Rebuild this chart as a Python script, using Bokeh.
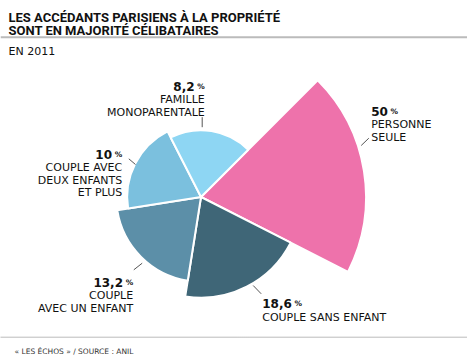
import math
from bokeh.plotting import figure
from bokeh.models import Range1d
from bokeh.core.properties import value
from bokeh.embed import file_html
from bokeh.resources import INLINE

# ---- data ----
categories = ["PERSONNE SEULE", "COUPLE SANS ENFANT", "COUPLE AVEC UN ENFANT",
              "COUPLE AVEC DEUX ENFANTS ET PLUS", "FAMILLE MONOPARENTALE"]
values = [50, 18.6, 13.2, 10, 8.2]
pct_labels = ["50", "18,6", "13,2", "10", "8,2"]
name_lines = [["PERSONNE", "SEULE"], ["COUPLE SANS ENFANT"], ["COUPLE", "AVEC UN ENFANT"],
              ["COUPLE AVEC", "DEUX ENFANTS", "ET PLUS"], ["FAMILLE", "MONOPARENTALE"]]
colors = ["#EE72AB", "#3F6677", "#5C8FA8", "#7BC0DE", "#8ED6F3"]
title_lines = ["LES ACCÉDANTS PARISIENS À LA PROPRIÉTÉ", "SONT EN MAJORITÉ CÉLIBATAIRES"]
subtitle = "EN 2011"
source = "« LES ÉCHOS »  / SOURCE : ANIL"

# ---- layout ----
W, H = 467, 356
def Y(py):
    return H - py

cx, cy = 200.5, 196.5
rmax = 165.0
start_deg = 45.0
step = 360.0 / len(values)

# label anchors: (x, baseline of first line, align, line gap)
anchors = [(370.7, 110.7, "left", 13.3),
           (261.7, 303.3, "left", 13.4),
           (132.7, 281.7, "right", 13.3),
           (121.7, 154.0, "right", 12.8),
           (204.3, 86.0, "right", 12.9)]
ticks = [((360.7, 145.0), (368.3, 137.7)),
         ((252.7, 285.0), (260.7, 293.3)),
         ((133.3, 269.3), (141.7, 262.7)),
         ((128.3, 158.3), (135.0, 164.0)),
         ((201.7, 116.7), (201.7, 126.7))]

p = figure(width=W, height=H, x_range=Range1d(0, W), y_range=Range1d(0, H),
           output_backend="svg", toolbar_location=None, min_border=0,
           x_axis_location=None, y_axis_location=None)
p.grid.visible = False
p.outline_line_color = None
p.background_fill_color = "white"
p.border_fill_color = "white"

vmax = max(values)
xs, ys, rs, sa, ea = [], [], [], [], []
for i, v in enumerate(values):
    end = start_deg - step * i
    st = end - step
    xs.append(cx); ys.append(Y(cy))
    rs.append(rmax * math.sqrt(v / vmax))
    sa.append(math.radians(st)); ea.append(math.radians(end))
p.wedge(x=xs, y=ys, radius=rs, start_angle=sa, end_angle=ea,
        fill_color=colors, line_color="white", line_width=2)

# header
p.text(x=[8, 8], y=[Y(16.7), Y(30.0)], text=title_lines, text_font=value("Roboto"),
       text_font_style="bold", text_font_size=value("13px"), text_color="#111111",
       text_baseline="alphabetic", text_align="left")
p.line(x=[0, W], y=[Y(36.7), Y(36.7)], line_color="#BBBBBB", line_width=2)
p.text(x=[8], y=[Y(50.7)], text=[subtitle], text_font=value("DejaVu Sans"),
       text_font_size=value("11px"), text_color="#111111", text_baseline="alphabetic")

# labels
wid = {"0": .696, "1": .696, "2": .696, "3": .696, "4": .696, "5": .696, "6": .696,
       "7": .696, "8": .696, "9": .696, ",": .38}
num_size, pct_size, gap = 12.0, 7.5, 2.7
for i in range(len(values)):
    ax, ab, al, lg = anchors[i]
    nw = sum(wid.get(c, .6) for c in pct_labels[i]) * num_size
    if al == "left":
        nx, px_ = ax, ax + nw + gap
    else:
        px_ = ax - pct_size
        nx = ax - pct_size - gap
    p.text(x=[nx], y=[Y(ab)], text=[pct_labels[i]], text_font=value("DejaVu Sans"),
           text_font_style="bold", text_font_size=value(f"{num_size}px"), text_color="#111111",
           text_baseline="alphabetic", text_align=al)
    p.text(x=[px_], y=[Y(ab)], text=["%"], text_font=value("DejaVu Sans"),
           text_font_style="bold", text_font_size=value(f"{pct_size}px"), text_color="#111111",
           text_baseline="alphabetic", text_align="left")
    lines = name_lines[i]
    p.text(x=[ax] * len(lines), y=[Y(ab + lg * (k + 1)) for k in range(len(lines))],
           text=lines, text_font=value("DejaVu Sans"), text_font_size=value("11px"),
           text_color="#111111", text_baseline="alphabetic", text_align=al)
    (x0, y0), (x1, y1) = ticks[i]
    p.line(x=[x0, x1], y=[Y(y0), Y(y1)], line_color="#555555", line_width=1)

# footer
p.line(x=[0, W], y=[Y(336.7), Y(336.7)], line_color="#777777", line_width=1, line_dash="1 1")
p.text(x=[14], y=[Y(351.0)], text=[source], text_font=value("DejaVu Sans"),
       text_font_size=value("7.5px"), text_color="#333333", text_baseline="alphabetic")

open("out.html", "w").write(file_html(p, INLINE))
